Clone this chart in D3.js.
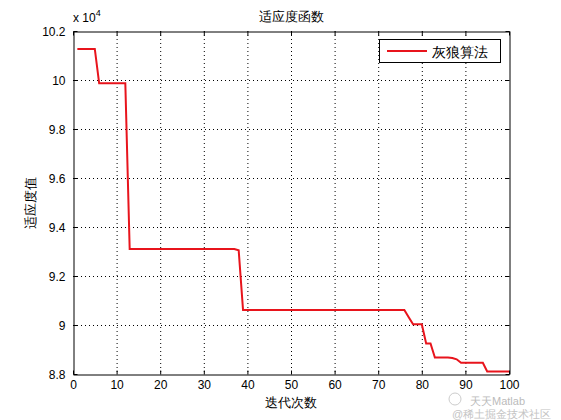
<!DOCTYPE html>
<html><head><meta charset="utf-8">
<script src="https://cdn.jsdelivr.net/npm/d3@7"></script>
<style>body{margin:0;background:#fff;}svg{display:block;}text{font-family:"Liberation Sans",Arial,sans-serif;}</style>
</head><body>
<script>
const iterations = d3.range(1, 101);
const fitness = [
101270,101270,101270,101270,101270,99865,99865,99865,99865,99865,
99865,99865,93100,93100,93100,93100,93100,93100,93100,93100,
93100,93100,93100,93100,93100,93100,93100,93100,93100,93100,
93100,93100,93100,93100,93100,93100,93100,93050,90610,90610,
90610,90610,90610,90610,90610,90610,90610,90610,90610,90610,
90610,90610,90610,90610,90610,90610,90610,90610,90610,90610,
90610,90610,90610,90610,90610,90610,90610,90610,90610,90610,
90610,90610,90610,90610,90610,90610,90320,90030,90030,90030,
89250,89250,88670,88670,88670,88670,88650,88600,88460,88460,
88460,88460,88460,88460,88100,88100,88100,88100,88100,88100
];
const xTicks = [0,10,20,30,40,50,60,70,80,90,100];
const yTicks = [88000,90000,92000,94000,96000,98000,100000,102000];
const yTickLabels = ["8.8","9","9.2","9.4","9.6","9.8","10","10.2"];
const title = "适应度函数", xLabel = "迭代次数", yLabel = "适应度值", legendName = "灰狼算法";

const W = 561, H = 420;
const L = 73, R = 509, T = 31, B = 374;
const svg = d3.select("body").append("svg").attr("width", W).attr("height", H);
const x = d3.scaleLinear().domain([0,100]).range([L,R]);
const y = d3.scaleLinear().domain([88000,102000]).range([B,T]);

// grid
const g = svg.append("g");
g.selectAll(".gx").data(xTicks.slice(1,-1)).join("line")
 .attr("x1", d=>x(d)+0.5).attr("x2", d=>x(d)+0.5).attr("y1", T).attr("y2", B)
 .attr("stroke","#000").attr("stroke-width",1).attr("stroke-dasharray","1,3");
g.selectAll(".gy").data(yTicks.slice(1,-1)).join("line")
 .attr("y1", d=>Math.round(y(d))+0.5).attr("y2", d=>Math.round(y(d))+0.5).attr("x1", L).attr("x2", R)
 .attr("stroke","#000").attr("stroke-width",1).attr("stroke-dasharray","1,3");

// axes
const ax = svg.append("g").attr("transform",`translate(0,${B+0.5})`)
 .call(d3.axisBottom(x).tickValues(xTicks).tickSizeInner(-4).tickSizeOuter(0).tickPadding(6));
const axT = svg.append("g").attr("transform",`translate(0,${T+0.5})`)
 .call(d3.axisTop(x).tickValues(xTicks).tickSizeInner(-4).tickSizeOuter(0).tickFormat(""));
const ay = svg.append("g").attr("transform",`translate(${L+0.5},0)`)
 .call(d3.axisLeft(y).tickValues(yTicks).tickSizeInner(-4).tickSizeOuter(0).tickPadding(8).tickFormat((d,i)=>yTickLabels[i]));
const ayR = svg.append("g").attr("transform",`translate(${R+0.5},0)`)
 .call(d3.axisRight(y).tickValues(yTicks).tickSizeInner(-4).tickSizeOuter(0).tickFormat(""));
[ax,axT,ay,ayR].forEach(a=>{
  a.selectAll("path").attr("stroke","#000");
  a.selectAll("line").attr("stroke","#000");
  a.selectAll("text").attr("font-size",12).attr("fill","#000").attr("font-family","Liberation Sans, Arial, sans-serif");
});
ay.selectAll("text").attr("dy","0.35em");

// line
svg.append("path").datum(iterations.map((d,i)=>[d,fitness[i]]))
 .attr("fill","none").attr("stroke","#e8141c").attr("stroke-width",2)
 .attr("d", d3.line().x(d=>x(d[0])).y(d=>y(d[1])));

// exponent
const ex = svg.append("text").attr("x",L).attr("y",T-9).attr("font-size",12);
ex.append("tspan").text("x 10");
ex.append("tspan").attr("dy",-6).attr("font-size",9).text("4");

// title and labels
const cjk = "'Noto Sans CJK SC', sans-serif";
svg.append("text").attr("x",(L+R)/2).attr("y",21).attr("text-anchor","middle")
 .attr("font-size",13).attr("font-family",cjk).text(title);
svg.append("text").attr("x",(L+R)/2).attr("y",407).attr("text-anchor","middle")
 .attr("font-size",13).attr("font-family",cjk).text(xLabel);
svg.append("text").attr("transform",`translate(35,${(T+B)/2}) rotate(-90)`).attr("text-anchor","middle")
 .attr("font-size",13).attr("font-family",cjk).text(yLabel);

// legend
svg.append("rect").attr("x",379.5).attr("y",39.5).attr("width",121).attr("height",23)
 .attr("fill","#fff").attr("stroke","#000");
svg.append("line").attr("x1",387).attr("x2",427).attr("y1",51).attr("y2",51)
 .attr("stroke","#e8141c").attr("stroke-width",2);
svg.append("text").attr("x",432).attr("y",56.5).attr("font-size",14).attr("font-family",cjk).text(legendName);

// watermark
svg.append("circle").attr("cx",455).attr("cy",399).attr("r",6).attr("fill","none").attr("stroke","#ccc");
svg.append("text").attr("x",470).attr("y",405).attr("font-size",11).attr("fill","#bbb")
 .attr("font-family",cjk).text("天天Matlab");
svg.append("text").attr("x",452).attr("y",418).attr("font-size",11).attr("fill","#c4c4c4")
 .attr("font-family",cjk).text("@稀土掘金技术社区");
</script>
</body></html>
